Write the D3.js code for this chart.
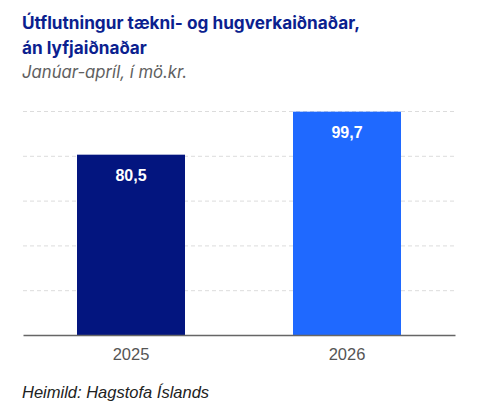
<!DOCTYPE html>
<html>
<head>
<meta charset="utf-8">
<script src="https://cdn.jsdelivr.net/npm/d3@7"></script>
<style>
  body { margin: 0; background: #fff; }
  svg { display: block; }
</style>
</head>
<body>
<div id="chart"></div>
<script>
// gögn
var years = ["2025", "2026"];
var values = [80.5, 99.7];
var barColors = ["#03157f", "#1f69ff"];
var yTicks = [0, 20, 40, 60, 80, 100];

var width = 500, height = 409;
var margin = {left: 23, right: 45, top: 111, bottom: 74};

var svg = d3.select("#chart").append("svg")
    .attr("width", width)
    .attr("height", height);

var x = d3.scaleBand()
    .domain(years)
    .range([margin.left, width - margin.right])
    .paddingInner(0.5)
    .paddingOuter(0.25);

var y = d3.scaleLinear()
    .domain([0, 100])
    .range([height - margin.bottom, margin.top]);

// gridlines
svg.append("g")
    .attr("class", "grid")
    .attr("transform", "translate(" + margin.left + ",0)")
    .call(d3.axisLeft(y).tickValues(yTicks.slice(1)).tickSize(-(width - margin.left - margin.right)).tickFormat(""))
    .call(function(g) {
        g.select(".domain").remove();
        g.selectAll("line")
          .attr("stroke", "#dcdcdc")
          .attr("stroke-dasharray", "4,3");
    });

// bars
svg.selectAll("rect.bar")
    .data(values)
    .enter()
    .append("rect")
    .attr("class", "bar")
    .attr("x", function(d, i) { return x(years[i]); })
    .attr("y", function(d) { return y(d); })
    .attr("width", x.bandwidth())
    .attr("height", function(d) { return y(0) - y(d); })
    .style("fill", function(d, i) { return barColors[i]; });

// value labels
svg.selectAll("text.val")
    .data(values)
    .enter()
    .append("text")
    .attr("class", "val")
    .attr("x", function(d, i) { return x(years[i]) + x.bandwidth() / 2; })
    .attr("y", function(d) { return y(d) + 26; })
    .attr("text-anchor", "middle")
    .style("font-family", "'Liberation Sans', Arial, sans-serif")
    .style("font-weight", "bold")
    .style("font-size", "16px")
    .style("fill", "#fff")
    .text(function(d) { return d3.format(".1f")(d).replace(".", ","); });

// x axis
var xAxis = svg.append("g")
    .attr("transform", "translate(0," + y(0) + ")")
    .call(d3.axisBottom(x).tickSize(0).tickPadding(13));
xAxis.select(".domain")
    .attr("stroke", "#666")
    .attr("stroke-width", 1.5);
xAxis.selectAll("text")
    .style("font-family", "'Liberation Sans', Arial, sans-serif")
    .style("font-size", "16.5px")
    .style("fill", "#555");

// titill
var title = svg.append("text")
    .attr("x", 22)
    .attr("y", 29)
    .style("font-family", "Inter, 'Open Sans', sans-serif")
    .style("font-weight", "bold")
    .style("font-size", "17.2px")
    .style("fill", "#0b1f8f");
title.append("tspan").attr("x", 22).attr("y", 29).text("Útflutningur tækni- og hugverkaiðnaðar,");
title.append("tspan").attr("x", 22).attr("y", 54).text("án lyfjaiðnaðar");

svg.append("text")
    .attr("x", 22)
    .attr("y", 78)
    .style("font-family", "Inter, 'Open Sans', sans-serif")
    .style("font-style", "italic")
    .style("font-size", "16.7px")
    .style("fill", "#606060")
    .text("Janúar-apríl, í mö.kr.");

svg.append("text")
    .attr("x", 22)
    .attr("y", 398)
    .style("font-family", "'Liberation Sans', Arial, sans-serif")
    .style("font-style", "italic")
    .style("font-size", "16.5px")
    .style("fill", "#222")
    .text("Heimild: Hagstofa Íslands");
</script>
</body>
</html>
